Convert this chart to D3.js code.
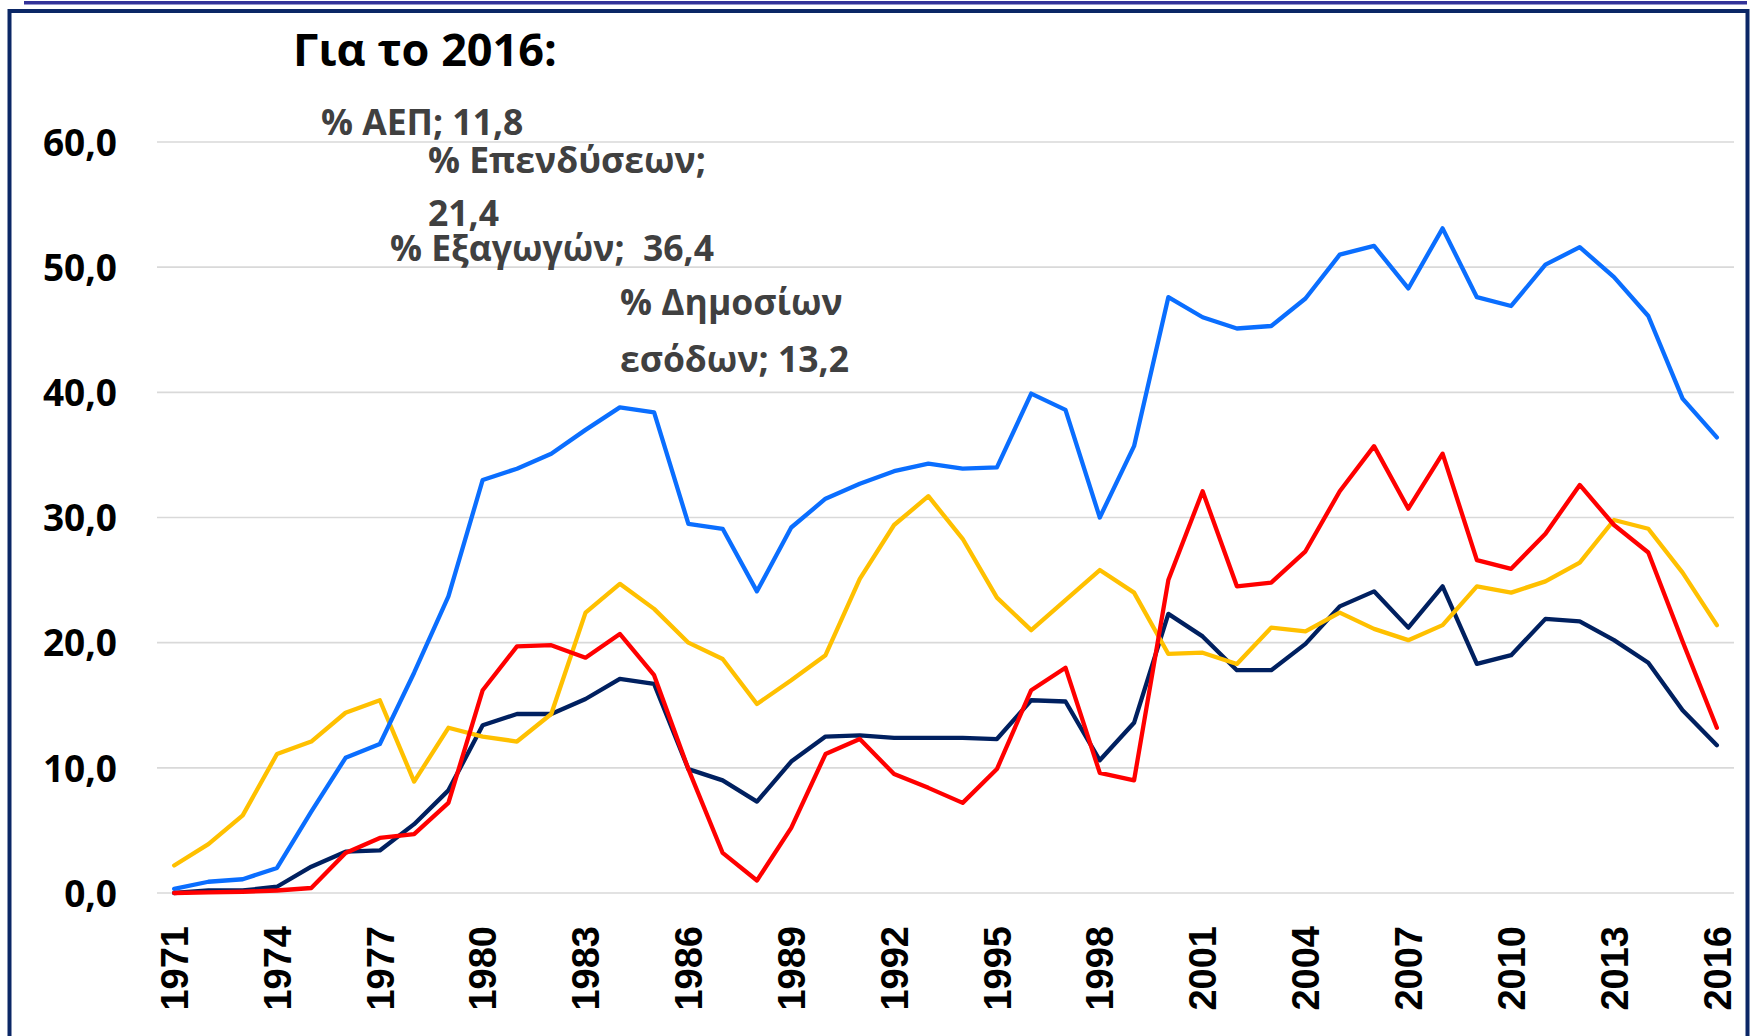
<!DOCTYPE html>
<html>
<head>
<meta charset="utf-8">
<script src="https://cdn.jsdelivr.net/npm/d3@7"></script>
<style>
html,body{margin:0;padding:0;background:#fff;}
svg{display:block;}
</style>
</head>
<body>
<svg id="chart" width="1754" height="1036"></svg>
<script>
const years = d3.range(1971, 2017);
const gdp = [0.0,0.2,0.2,0.5,2.1,3.3,3.4,5.5,8.2,13.4,14.3,14.3,15.5,17.1,16.7,9.9,9.0,7.3,10.5,12.5,12.6,12.4,12.4,12.4,12.3,15.4,15.3,10.6,13.6,22.3,20.5,17.8,17.8,19.9,22.9,24.1,21.2,24.5,18.3,19.0,21.9,21.7,20.2,18.4,14.6,11.8];
const investment = [2.2,3.9,6.2,11.1,12.1,14.4,15.4,8.9,13.2,12.5,12.1,14.3,22.4,24.7,22.7,20.0,18.7,15.1,17.0,19.0,25.1,29.4,31.7,28.3,23.6,21.0,23.4,25.8,24.0,19.1,19.2,18.3,21.2,20.9,22.4,21.1,20.2,21.4,24.5,24.0,24.9,26.4,29.8,29.1,25.6,21.4];
const exportsS = [0.33,0.9,1.1,2.0,6.5,10.8,11.9,17.6,23.7,33.0,33.9,35.1,37.0,38.8,38.4,29.5,29.1,24.1,29.2,31.5,32.7,33.7,34.3,33.9,34.0,39.9,38.6,30.0,35.7,47.6,46.0,45.1,45.3,47.5,51.0,51.7,48.3,53.1,47.6,46.9,50.2,51.6,49.2,46.1,39.5,36.4];
const revenue = [0.0,0.05,0.1,0.2,0.4,3.2,4.4,4.7,7.2,16.2,19.7,19.8,18.8,20.7,17.4,9.9,3.2,1.0,5.2,11.1,12.3,9.5,8.4,7.2,9.9,16.2,18.0,9.6,9.0,25.0,32.1,24.5,24.8,27.3,32.1,35.7,30.7,35.1,26.6,25.9,28.7,32.6,29.4,27.2,20.1,13.2];
const yTicks = [0,10,20,30,40,50,60];
const xTickYears = d3.range(1971, 2017, 3);
const title = "Για το 2016:";
const labels = [
  {lines:["% ΑΕΠ; 11,8"], x:321, y:135},
  {lines:["% Επενδύσεων;"], x:428, y:173},
  {lines:["21,4"], x:428, y:226},
  {lines:["% Εξαγωγών;  36,4"], x:390, y:261},
  {lines:["% Δημοσίων","εσόδων; 13,2"], x:620, y:315}
];
const series = [
  {name:"ΑΕΠ", values:gdp, color:"#002060"},
  {name:"Επενδύσεων", values:investment, color:"#FFC000"},
  {name:"Εξαγωγών", values:exportsS, color:"#0A6EFF"},
  {name:"Δημοσίων εσόδων", values:revenue, color:"#FF0000"}
];

const svg = d3.select("#chart");
svg.append("rect").attr("x",0).attr("y",0).attr("width",1754).attr("height",1036).attr("fill","#fff");
// top thin line and frame
svg.append("rect").attr("x",24).attr("y",1).attr("width",1723).attr("height",3.5).attr("fill","#333399");
svg.append("rect").attr("x",9.5).attr("y",11).attr("width",1738).attr("height",1100)
  .attr("fill","none").attr("stroke","#0B2766").attr("stroke-width",4);

const x = d3.scaleBand().domain(years).range([157,1734]);
const y = d3.scaleLinear().domain([0,60]).range([893,142]);
const cx = d => x(d) + x.bandwidth()/2;

// gridlines
svg.append("g").selectAll("line").data(yTicks).join("line")
  .attr("x1",157).attr("x2",1734).attr("y1",d=>y(d)).attr("y2",d=>y(d))
  .attr("stroke","#D9D9D9").attr("stroke-width",1.6);

// y axis
const yAxis = svg.append("g").attr("transform","translate(157,0)")
  .call(d3.axisLeft(y).tickValues(yTicks).tickSize(0).tickPadding(40)
    .tickFormat(d => d.toFixed(1).replace(".", ",")));
yAxis.select(".domain").remove();
yAxis.selectAll("text").attr("font-family","'Open Sans', sans-serif").attr("font-weight","700")
  .attr("font-size",37).attr("fill","#000").attr("dy","0.36em");

// x axis
const xAxis = svg.append("g").attr("transform","translate(0,893)")
  .call(d3.axisBottom(x).tickValues(xTickYears).tickSize(0));
xAxis.select(".domain").remove();
xAxis.selectAll("text")
  .attr("font-family","'Liberation Sans', Arial, sans-serif").attr("font-weight","700")
  .attr("font-size",38).attr("fill","#000")
  .attr("transform","rotate(-90)").attr("text-anchor","end")
  .attr("x",-33).attr("y",0).attr("dy","0.36em");

// lines
const line = d3.line().x((d,i)=>cx(years[i])).y(d=>y(d));
svg.append("g").selectAll("path").data(series).join("path")
  .attr("d", s => line(s.values)).attr("fill","none")
  .attr("stroke", s => s.color).attr("stroke-width",4.3)
  .attr("stroke-linejoin","round").attr("stroke-linecap","round");

// title
svg.append("text").attr("x",293).attr("y",66).text(title)
  .attr("font-family","'Open Sans', sans-serif").attr("font-weight","700")
  .attr("font-size",45).attr("fill","#000");

// labels
const lg = svg.append("g");
labels.forEach(l => {
  const t = lg.append("text").attr("x",l.x).attr("y",l.y)
    .attr("font-family","'Open Sans', sans-serif").attr("font-weight","700")
    .attr("font-size",35.5).attr("fill","#404040").attr("xml:space","preserve");
  l.lines.forEach((ln,i)=>{
    t.append("tspan").attr("x",l.x).attr("dy", i===0?0:57).text(ln);
  });
});
</script>
</body>
</html>
